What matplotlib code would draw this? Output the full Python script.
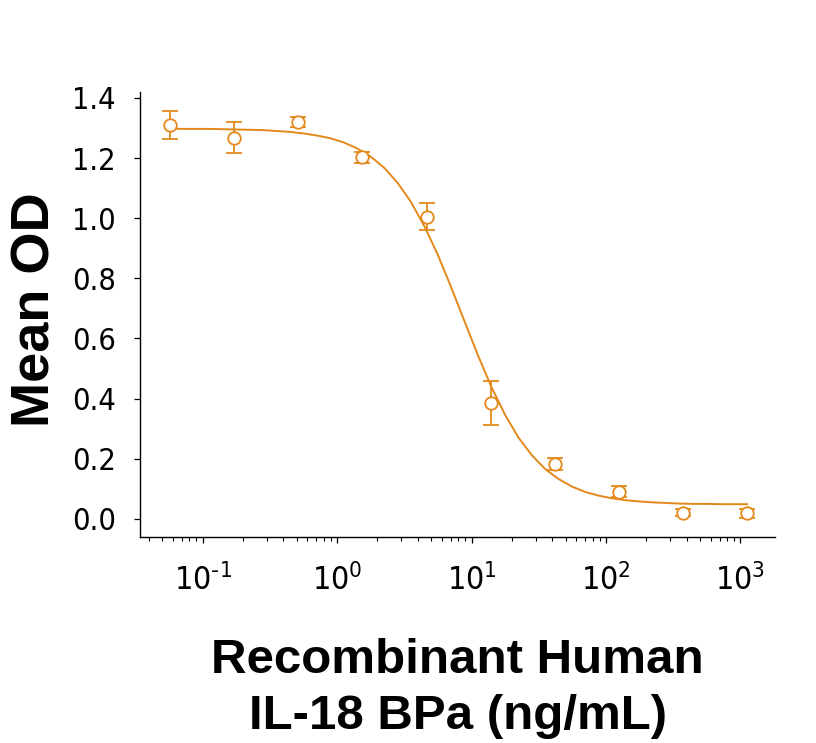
import numpy as np
import matplotlib
matplotlib.use("Agg")
import matplotlib.pyplot as plt
from matplotlib import font_manager
from matplotlib.ticker import LogLocator, FuncFormatter, NullFormatter

# measured points (ng/mL), mean OD and error bar half-widths
conc = [0.0573, 0.171, 0.515, 1.54, 4.67, 13.96, 41.8, 125, 371, 1123]
mean_od = [1.310, 1.268, 1.321, 1.203, 1.005, 0.385, 0.182, 0.091, 0.021, 0.019]
od_err = [0.045, 0.052, 0.017, 0.018, 0.045, 0.072, 0.020, 0.017, 0.012, 0.015]

# fitted curve (log10 conc, OD)
curve_logx = [-1.25, -1.15, -1.05, -0.95, -0.85, -0.75, -0.65, -0.55, -0.45, -0.35,
              -0.25, -0.15, -0.05, 0.05, 0.15, 0.25, 0.35, 0.45, 0.55, 0.65,
              0.75, 0.85, 0.95, 1.05, 1.15, 1.25, 1.35, 1.45, 1.55, 1.65,
              1.75, 1.85, 1.95, 2.05, 2.15, 2.25, 2.35, 2.45, 2.55, 2.65,
              2.75, 2.85, 2.95, 3.05]
curve_od = [1.298, 1.297, 1.297, 1.297, 1.296, 1.295, 1.294, 1.293, 1.290, 1.287,
            1.282, 1.275, 1.266, 1.252, 1.232, 1.205, 1.168, 1.118, 1.054, 0.973,
            0.878, 0.769, 0.655, 0.542, 0.437, 0.346, 0.270, 0.211, 0.165, 0.132,
            0.107, 0.089, 0.077, 0.068, 0.062, 0.058, 0.055, 0.053, 0.051, 0.050,
            0.050, 0.049, 0.049, 0.049]

y_ticks = [0.0, 0.2, 0.4, 0.6, 0.8, 1.0, 1.2, 1.4]
color = '#E3891C'

tick_fp = font_manager.FontProperties(family='DejaVu Sans', stretch='condensed', size=22)
plt.rcParams['mathtext.fontset'] = 'custom'
plt.rcParams['mathtext.rm'] = 'DejaVu Sans:stretch=condensed'
plt.rcParams['mathtext.it'] = 'DejaVu Sans:stretch=condensed'


def decade_label(v, pos):
    e = int(round(np.log10(v)))
    if e < 0:
        return r'$\mathregular{10^{\text{-}%d}}$' % (-e)
    return r'$\mathregular{10^{%d}}$' % e


fig = plt.figure(figsize=(8.16, 7.43), dpi=100)
ax = fig.add_axes([0.1716, 0.2773, 0.7782, 0.599])

ax.plot(10 ** np.array(curve_logx), curve_od, color=color, linewidth=1.4)
ax.errorbar(conc, mean_od, yerr=od_err, fmt='o', color=color, mfc='white',
            mec=color, ms=9, mew=1.3, elinewidth=1.3, capsize=5.5, capthick=1.3,
            zorder=3)

ax.set_xscale('log')
ax.set_xlim(0.0343, 1807)
ax.set_ylim(-0.06, 1.42)
ax.set_yticks(y_ticks)
ax.set_yticklabels([f'{v:.1f}' for v in y_ticks])

ax.xaxis.set_major_locator(LogLocator(base=10, numticks=10))
ax.xaxis.set_minor_locator(LogLocator(base=10, subs=np.arange(2, 10), numticks=20))
ax.xaxis.set_minor_formatter(NullFormatter())
ax.xaxis.set_major_formatter(FuncFormatter(decade_label))

for side in ['top', 'right']:
    ax.spines[side].set_visible(False)
for side in ['left', 'bottom']:
    ax.spines[side].set_linewidth(1.0)

ax.tick_params(axis='y', which='major', direction='out', length=4.5, width=0.9, pad=13)
ax.tick_params(axis='x', which='major', direction='out', length=4.5, width=0.9, pad=15)
ax.tick_params(axis='x', which='minor', direction='out', length=2.8, width=0.8)
for lab in ax.get_yticklabels():
    lab.set_fontproperties(tick_fp)
for lab in ax.get_xticklabels():
    lab.set_fontproperties(tick_fp)
    lab.set_fontsize(23)

label_font = ['Liberation Sans', 'DejaVu Sans']
fig.text(0.043, 0.583, 'Mean OD', rotation=90, ha='center', va='center',
         fontsize=39, fontweight='bold', family=label_font)
fig.text(0.561, 1 - 673 / 743, 'Recombinant Human', ha='center', va='baseline',
         fontsize=35.5, fontweight='bold', family=label_font)
fig.text(0.561, 1 - 729 / 743, 'IL-18 BPa (ng/mL)', ha='center', va='baseline',
         fontsize=35.5, fontweight='bold', family=label_font)

fig.savefig('out.png', dpi=100)
